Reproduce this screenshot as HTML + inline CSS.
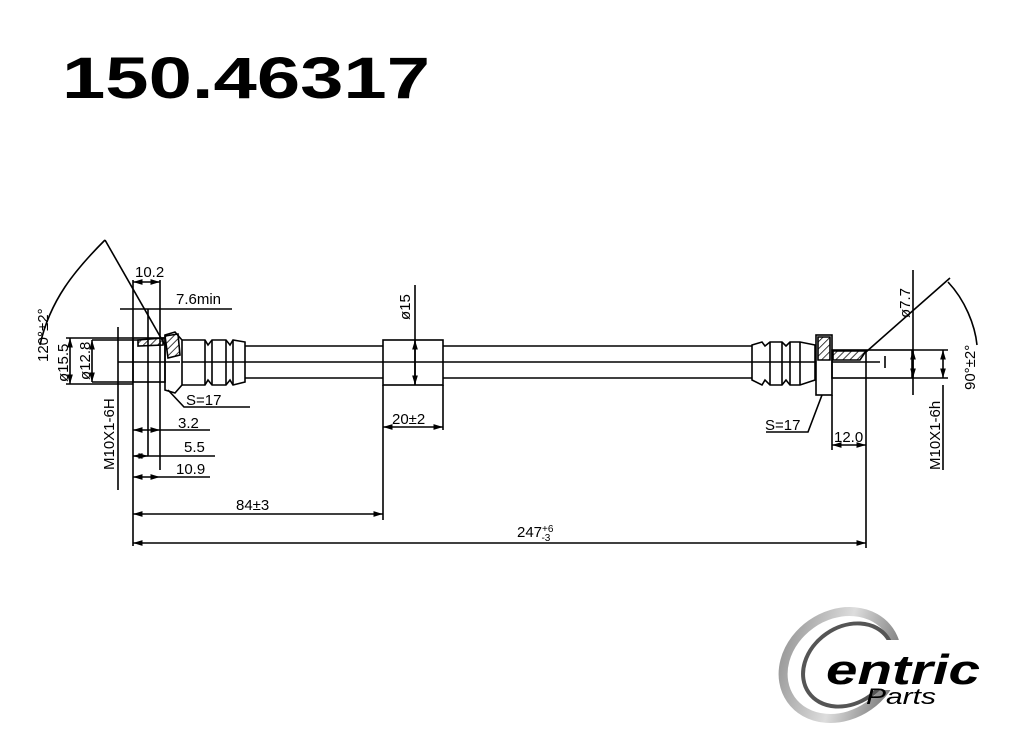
<!DOCTYPE html>
<html><head><style>
html,body{margin:0;padding:0;background:#fff;}
svg{display:block;}
text{font-family:"Liberation Sans",sans-serif;fill:#000;}
</style></head><body>
<svg width="1024" height="749" viewBox="0 0 1024 749" xmlns="http://www.w3.org/2000/svg">
<defs>
<marker id="a" viewBox="0 0 10 10" refX="10" refY="5" markerWidth="6" markerHeight="6" orient="auto-start-reverse"><path d="M0,2 L10,5 L0,8 z" fill="#000"/></marker>
<pattern id="h" width="5" height="5" patternUnits="userSpaceOnUse" patternTransform="rotate(45)"><line x1="0" y1="0" x2="0" y2="5" stroke="#000" stroke-width="1.5"/></pattern>
<linearGradient id="g" x1="0" y1="0" x2="1" y2="1"><stop offset="0" stop-color="#888"/><stop offset="0.5" stop-color="#ddd"/><stop offset="1" stop-color="#555"/></linearGradient>
</defs>
<text x="62" y="98" font-size="58" font-weight="bold" textLength="368" lengthAdjust="spacingAndGlyphs">150.46317</text>
<g stroke="#000" stroke-width="1.6" fill="none">
<line x1="245" y1="346" x2="752" y2="346"/>
<line x1="245" y1="362" x2="752" y2="362"/>
<line x1="245" y1="378" x2="752" y2="378"/>
<rect x="383" y="340" width="60" height="45" fill="#fff"/>
<line x1="383" y1="362" x2="443" y2="362"/>
<path d="M180,340 L205,340 L208,345 L212,340 L226,340 L230,345 L233,340 L245,342 L245,382 L233,385 L230,380 L226,385 L212,385 L208,380 L205,385 L180,385 Z" fill="#fff"/>
<line x1="205" y1="340" x2="205" y2="385"/><line x1="212" y1="340" x2="212" y2="385"/>
<line x1="226" y1="340" x2="226" y2="385"/><line x1="233" y1="340" x2="233" y2="385"/>
<line x1="180" y1="362" x2="245" y2="362"/>
<path d="M165,335 L175,332 L182,340 L182,385 L175,393 L165,390 Z" fill="#fff"/>
<path d="M165,336 L178,334 L180,355 L168,358 Z" fill="url(#h)"/>
<rect x="133" y="338" width="32" height="44"/>
<line x1="118" y1="362" x2="180" y2="362"/>
<path d="M138,340 L163,338 L163,345 L138,346 Z" fill="url(#h)"/>
<path d="M752,345 L762,342 L765,346 L770,342 L782,342 L786,346 L790,342 L800,342 L815,345 L815,380 L800,385 L790,385 L786,380 L782,385 L770,385 L765,380 L762,385 L752,380 Z" fill="#fff"/>
<line x1="770" y1="342" x2="770" y2="385"/><line x1="782" y1="342" x2="782" y2="385"/>
<line x1="790" y1="342" x2="790" y2="385"/><line x1="800" y1="342" x2="800" y2="385"/>
<line x1="752" y1="362" x2="880" y2="362"/>
<rect x="816" y="335" width="16" height="60" fill="#fff"/>
<path d="M818,337 L830,337 L830,360 L818,360 Z" fill="url(#h)"/>
<rect x="832" y="350" width="80" height="28"/>
<path d="M833,351 L866,351 L860,360 L833,360 Z" fill="url(#h)"/>
<line x1="866" y1="351" x2="866" y2="378"/>
<line x1="885" y1="356" x2="885" y2="368"/>
<path d="M105,240 C75,270 50,300 40,345"/>
<line x1="105" y1="240" x2="165" y2="345"/>
<line x1="133" y1="280" x2="133" y2="546"/>
<line x1="160" y1="280" x2="160" y2="470"/>
<line x1="133" y1="282" x2="160" y2="282" marker-start="url(#a)" marker-end="url(#a)"/>
<line x1="120" y1="309" x2="232" y2="309"/>
<line x1="148" y1="309" x2="148" y2="456"/>
<line x1="118" y1="327" x2="118" y2="490"/>
<line x1="66" y1="338" x2="133" y2="338"/><line x1="66" y1="384" x2="133" y2="384"/>
<line x1="70" y1="338" x2="70" y2="384" marker-start="url(#a)" marker-end="url(#a)"/>
<line x1="92" y1="340" x2="92" y2="382" marker-start="url(#a)" marker-end="url(#a)"/>
<line x1="92" y1="340" x2="140" y2="340"/><line x1="92" y1="382" x2="133" y2="382"/>
<path d="M168,390 L184,407 L250,407"/>
<line x1="133" y1="430" x2="160" y2="430" marker-start="url(#a)" marker-end="url(#a)"/>
<line x1="160" y1="430" x2="210" y2="430"/>
<line x1="133" y1="456" x2="148" y2="456" marker-start="url(#a)" marker-end="url(#a)"/>
<line x1="148" y1="456" x2="215" y2="456"/>
<line x1="133" y1="477" x2="160" y2="477" marker-start="url(#a)" marker-end="url(#a)"/>
<line x1="160" y1="477" x2="210" y2="477"/>
<line x1="383" y1="385" x2="383" y2="520"/>
<line x1="443" y1="385" x2="443" y2="430"/>
<line x1="383" y1="427" x2="443" y2="427" marker-start="url(#a)" marker-end="url(#a)"/>
<line x1="415" y1="285" x2="415" y2="385"/>
<line x1="415" y1="340" x2="415" y2="385" marker-start="url(#a)" marker-end="url(#a)"/>
<line x1="133" y1="514" x2="383" y2="514" marker-start="url(#a)" marker-end="url(#a)"/>
<line x1="133" y1="543" x2="866" y2="543" marker-start="url(#a)" marker-end="url(#a)"/>
<line x1="866" y1="378" x2="866" y2="548"/>
<line x1="832" y1="395" x2="832" y2="450"/>
<line x1="832" y1="445" x2="866" y2="445" marker-start="url(#a)" marker-end="url(#a)"/>
<path d="M822,395 L808,432 L766,432"/>
<line x1="866" y1="352" x2="950" y2="278"/>
<path d="M948,282 C965,300 975,325 977,345"/>
<line x1="913" y1="270" x2="913" y2="395"/>
<line x1="913" y1="350" x2="913" y2="378" marker-start="url(#a)" marker-end="url(#a)"/>
<line x1="912" y1="350" x2="948" y2="350"/><line x1="912" y1="378" x2="948" y2="378"/>
<line x1="943" y1="350" x2="943" y2="378" marker-start="url(#a)" marker-end="url(#a)"/>
<line x1="943" y1="385" x2="943" y2="470"/>
</g>
<g font-size="15">
<text x="135" y="277">10.2</text>
<text x="176" y="304">7.6min</text>
<text x="186" y="405">S=17</text>
<text x="178" y="428">3.2</text>
<text x="184" y="452">5.5</text>
<text x="176" y="474">10.9</text>
<text x="236" y="510">84±3</text>
<text x="517" y="537">247<tspan font-size="10" dy="-5">+6</tspan><tspan font-size="10" dx="-12" dy="9">-3</tspan></text>
<text x="392" y="424">20±2</text>
<text x="765" y="430">S=17</text>
<text x="834" y="442">12.0</text>
<text transform="translate(410,320) rotate(-90)">ø15</text>
<text transform="translate(48,362) rotate(-90)">120°±2°</text>
<text transform="translate(68,382) rotate(-90)">ø15.5</text>
<text transform="translate(90,380) rotate(-90)">ø12.8</text>
<text transform="translate(114,470) rotate(-90)">M10X1-6H</text>
<text transform="translate(910,318) rotate(-90)">ø7.7</text>
<text transform="translate(975,390) rotate(-90)">90°±2°</text>
<text transform="translate(940,470) rotate(-90)">M10X1-6h</text>
</g>
<ellipse cx="840" cy="665" rx="60" ry="50" transform="rotate(-35 840 665)" fill="none" stroke="url(#g)" stroke-width="9"/>
<ellipse cx="848" cy="665" rx="48" ry="38" transform="rotate(-35 848 665)" fill="none" stroke="#555" stroke-width="4"/>
<rect x="852" y="640" width="130" height="50" fill="#fff"/>
<text x="826" y="684" font-size="42" font-weight="bold" font-style="italic" fill="#333" textLength="154" lengthAdjust="spacingAndGlyphs">entric</text>
<text x="866" y="704" font-size="22" font-style="italic" fill="#777" textLength="70" lengthAdjust="spacingAndGlyphs">Parts</text>
</svg>
</body></html>
